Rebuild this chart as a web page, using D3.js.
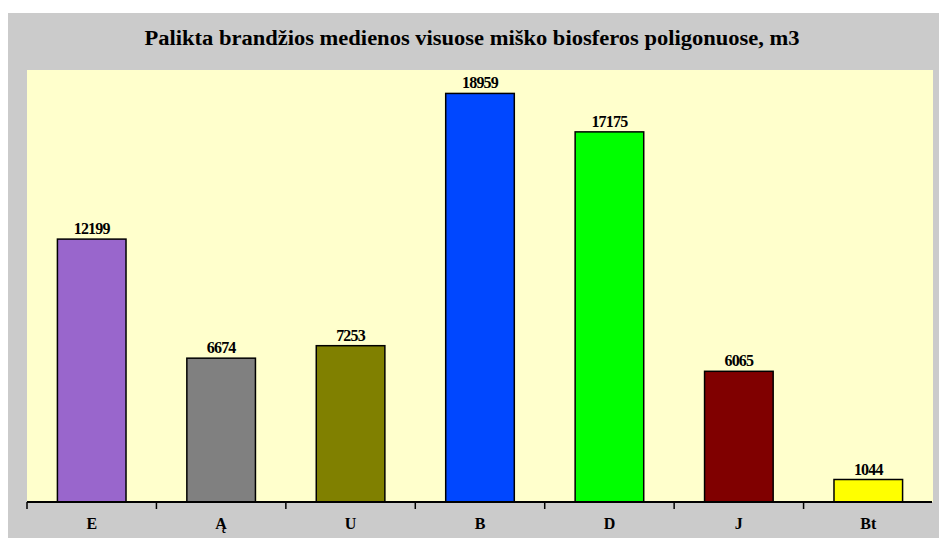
<!DOCTYPE html>
<html>
<head>
<meta charset="utf-8">
<script src="https://cdn.jsdelivr.net/npm/d3@7"></script>
<style>
  html, body { margin: 0; padding: 0; background: #ffffff; }
  svg { display: block; }
  text { font-family: 'Liberation Serif', 'Times New Roman', serif; font-weight: bold; }
</style>
</head>
<body>
<svg id="chart" width="939" height="538"></svg>
<script>
const title = "Palikta brandžios medienos visuose miško biosferos poligonuose, m3";
const categories = ["E", "Ą", "U", "B", "D", "J", "Bt"];
const values = [12199, 6674, 7253, 18959, 17175, 6065, 1044];
const colors = ["#9966CC", "#808080", "#808000", "#0047FF", "#00FF00", "#800000", "#FFFF00"];
const yDomain = [0, 20000];

const svg = d3.select("#chart");
const W = 939, H = 538;
const plot = { left: 27, right: 933, top: 70, bottom: 502 };

// gray background panel
svg.append("rect").attr("x", 8).attr("y", 13).attr("width", W - 8).attr("height", H - 13)
  .attr("fill", "#CBCBCB");

// plot area
svg.append("rect").attr("x", plot.left).attr("y", plot.top)
  .attr("width", plot.right - plot.left).attr("height", plot.bottom - plot.top)
  .attr("fill", "#FFFFCC");

// title
svg.append("text").attr("x", 472).attr("y", 45).attr("text-anchor", "middle")
  .attr("font-size", 20)
  .attr("textLength", 655).attr("lengthAdjust", "spacingAndGlyphs")
  .attr("fill", "#000").text(title);

const x = d3.scaleBand().domain(categories).range([plot.left, plot.right])
  .paddingInner(0.47).paddingOuter(0.235);
const y = d3.scaleLinear().domain(yDomain).range([plot.bottom, 71]);

const data = categories.map((c, i) => ({ c, v: values[i], col: colors[i] }));

svg.append("g").selectAll("rect").data(data).join("rect")
  .attr("x", d => x(d.c)).attr("y", d => y(d.v))
  .attr("width", x.bandwidth()).attr("height", d => y(0) - y(d.v))
  .attr("fill", d => d.col).attr("stroke", "#000").attr("stroke-width", 1.5);

svg.append("g").selectAll("text").data(data).join("text")
  .attr("x", d => x(d.c) + x.bandwidth() / 2).attr("y", d => y(d.v) - 5)
  .attr("text-anchor", "middle")
  .attr("font-size", 16)
  .attr("letter-spacing", -0.8)
  .attr("fill", "#000").text(d => d.v);

// x axis: ticks at band boundaries
const boundaries = d3.range(categories.length).map(i => plot.left + i * (plot.right - plot.left) / categories.length);
const axis = svg.append("g");
axis.append("line").attr("x1", plot.left).attr("x2", plot.right - 1)
  .attr("y1", plot.bottom).attr("y2", plot.bottom).attr("stroke", "#000").attr("stroke-width", 2);
axis.selectAll("line.tick").data(boundaries).join("line").attr("class", "tick")
  .attr("x1", d => d).attr("x2", d => d).attr("y1", plot.bottom).attr("y2", plot.bottom + 7)
  .attr("stroke", "#000").attr("stroke-width", 1.5);
axis.selectAll("text").data(categories).join("text")
  .attr("x", d => x(d) + x.bandwidth() / 2).attr("y", 529)
  .attr("text-anchor", "middle")
  .attr("font-size", 16)
  .attr("fill", "#000").text(d => d);
</script>
</body>
</html>
